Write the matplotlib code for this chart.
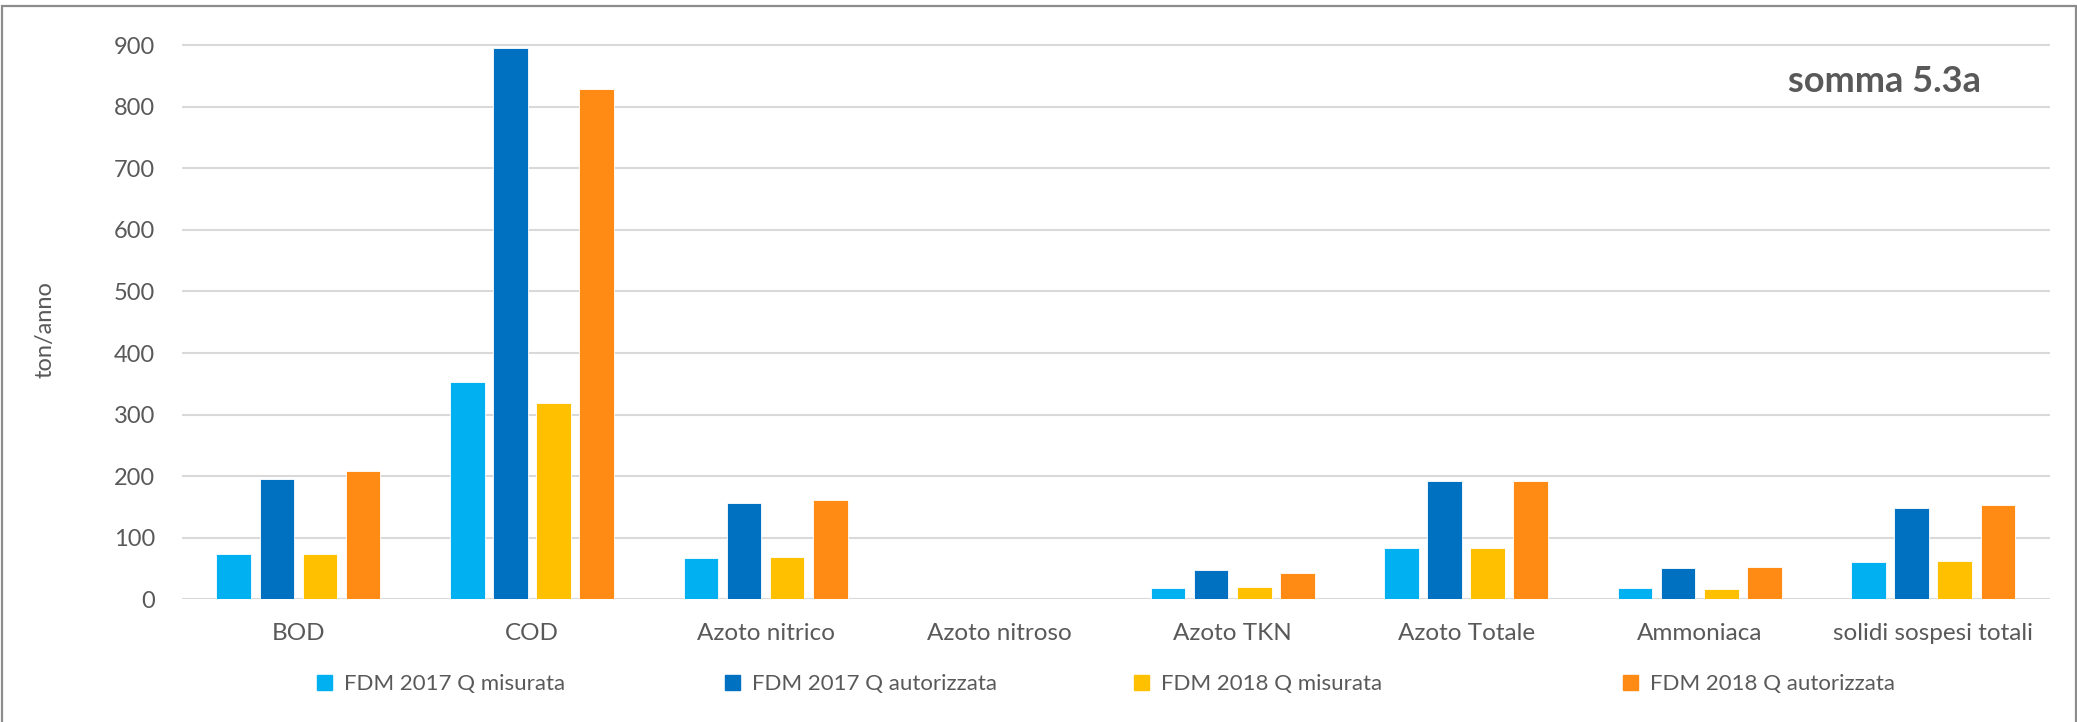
import matplotlib
matplotlib.use('Agg')
import matplotlib.pyplot as plt
import matplotlib.patches as mpatches
import numpy as np

plt.rcParams['font.family'] = ['Lato', 'DejaVu Sans']
plt.rcParams['text.color'] = '#595959'

categorie = ['BOD', 'COD', 'Azoto nitrico', 'Azoto nitroso', 'Azoto TKN',
             'Azoto Totale', 'Ammoniaca', 'solidi sospesi totali']
serie = ['FDM 2017 Q misurata', 'FDM 2017 Q autorizzata',
         'FDM 2018 Q misurata', 'FDM 2018 Q autorizzata']
colori = ['#00b0f0', '#0070c0', '#ffc000', '#ff8a14']

fdm2017_misurata = [73.5, 353, 66.5, 0.1, 18, 83, 18.5, 60.5]
fdm2017_autorizzata = [195, 895, 156.5, 0.3, 47, 192.5, 51.5, 147.5]
fdm2018_misurata = [73, 319, 69, 0.3, 20, 84, 16.5, 62.5]
fdm2018_autorizzata = [208, 829, 161, 1.2, 42, 192.5, 52.5, 153.5]
valori = [fdm2017_misurata, fdm2017_autorizzata, fdm2018_misurata, fdm2018_autorizzata]

W, H = 2077, 722
fig = plt.figure(figsize=(W / 100, H / 100), dpi=100)
ax = fig.add_axes([181.7 / W, 1 - 599.3 / H, (2050 - 181.7) / W, (599.3 - 14.4) / H])

x = np.arange(len(categorie))
passo = 0.1846
larghezza = 0.1486
for i, (v, c) in enumerate(zip(valori, colori)):
    ax.bar(x + (i - 1.5) * passo, v, larghezza, color=c, zorder=3,
           edgecolor='white', linewidth=0.6)

ax.set_xlim(-0.5, len(categorie) - 0.5)
ax.set_ylim(0, 950)
ax.set_yticks(np.arange(0, 901, 100))
ax.set_xticks(x)
ax.set_xticklabels(categorie)
ax.grid(axis='y', color='#d9d9d9', linewidth=1.5, zorder=0)
for s in ax.spines.values():
    s.set_visible(False)
ax.tick_params(axis='y', length=0, pad=19, labelsize=17, labelcolor='#595959')
ax.tick_params(axis='x', length=0, pad=17, labelsize=17.5, labelcolor='#595959')

fig.text(45 / W, 1 - 330 / H, 'ton/anno', rotation=90, ha='center', va='center',
         fontsize=17, color='#595959')
fig.text(1885 / W, 1 - 82 / H, 'somma 5.3a', ha='center', va='center',
         fontsize=26, fontweight='bold', color='#595959')

# legenda: quattro voci separate come in Excel
pos_leg = [317, 725, 1134, 1623]
for nome, c, px in zip(serie, colori, pos_leg):
    fig.legend(handles=[mpatches.Patch(color=c, label=nome)], loc='center left',
               bbox_to_anchor=(px / W, 1 - 684 / H), frameon=False, fontsize=16,
               handlelength=0.66, handleheight=0.66, handletextpad=0.55,
               borderpad=0, borderaxespad=0, labelcolor='#595959')

# cornice del grafico
fig.patches.append(mpatches.Rectangle((2 / W, -0.1), (W - 3) / W, 1.1 - 6 / H,
                                      transform=fig.transFigure, fill=False,
                                      edgecolor='#8c8c8c', linewidth=1.6))

fig.savefig('out.png', dpi=100, facecolor='white')
